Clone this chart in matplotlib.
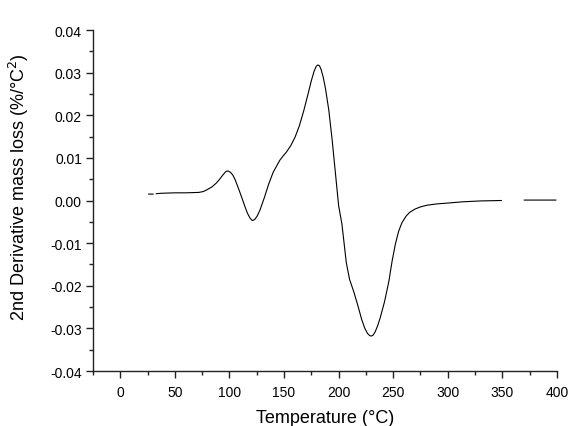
import matplotlib
matplotlib.use("Agg")
import matplotlib.pyplot as plt
from matplotlib.ticker import MultipleLocator, FormatStrFormatter
import numpy as np

plt.rcParams['font.family'] = ['Liberation Sans', 'DejaVu Sans']
plt.rcParams['axes.unicode_minus'] = False

# 2nd derivative curve (NaN marks gaps in the trace)
temp = [26, 30, np.nan, 33, 38, 50, 60, 72, 76, 80, 84, 88, 91, 94, 96,
        97.5, 99, 101, 103, 105, 108, 111, 114, 116.5, 119, 121, 123, 125.5,
        128, 132, 136, 140, 143, 146, 149, 152, 156, 160, 164, 168, 172, 175,
        177.5, 179.5, 181, 182.5, 184, 186, 188, 191, 194, 197, 200, 203,
        207, 210, 214, 218, 221, 224, 226.5, 228.5, 230, 231.5, 233.5, 236,
        238, 242, 246, 249, 252, 255, 258, 262, 265, 270, 275, 281, 290, 300,
        314, 330, 349, np.nan, 370, 385, 399]
deriv = [0.0015, 0.0015, np.nan, 0.0016, 0.0017, 0.0018, 0.0018, 0.0019,
         0.0021, 0.0026, 0.0032, 0.0041, 0.0050, 0.0060, 0.0066, 0.0069,
         0.0069, 0.0066, 0.0060, 0.0050, 0.0030, 0.0009, -0.0013, -0.0030,
         -0.0042, -0.0047, -0.0045, -0.0036, -0.0022, 0.0007, 0.0039,
         0.0066, 0.0080, 0.0094, 0.0104, 0.0113, 0.0128, 0.0148, 0.0175,
         0.0210, 0.0250, 0.0281, 0.0303, 0.0315, 0.0318, 0.0316, 0.0307,
         0.0288, 0.0262, 0.0212, 0.0144, 0.0066, -0.0012, -0.0055, -0.0145,
         -0.0185, -0.0215, -0.0250, -0.0278, -0.0300, -0.0312, -0.0317,
         -0.0318, -0.0316, -0.0308, -0.0292, -0.0276, -0.0238, -0.0190,
         -0.0142, -0.0102, -0.0072, -0.0052, -0.0036, -0.0028, -0.0020,
         -0.0015, -0.0011, -0.0008, -0.0006, -0.0003, -0.0001, 0.0000,
         np.nan, 0.0001, 0.0001, 0.0001]

fig = plt.figure(figsize=(5.73, 4.27), dpi=100)
ax = fig.add_axes([0.1623, 0.1288, 0.8097, 0.7986])

ax.plot(temp, deriv, color='black', linewidth=0.8)

ax.set_xlim(-25, 400)
ax.set_ylim(-0.04, 0.04)
ax.xaxis.set_major_locator(MultipleLocator(50))
ax.xaxis.set_minor_locator(MultipleLocator(25))
ax.yaxis.set_major_locator(MultipleLocator(0.01))
ax.yaxis.set_minor_locator(MultipleLocator(0.005))
ax.yaxis.set_major_formatter(FormatStrFormatter('%.2f'))

for side in ['top', 'right']:
    ax.spines[side].set_visible(False)
for side in ['left', 'bottom']:
    ax.spines[side].set_linewidth(1.0)
    ax.spines[side].set_color('#222222')

ax.tick_params(which='major', direction='out', length=5, width=1,
               labelsize=10, color='#222222')
ax.tick_params(axis='x', which='major', pad=5)
ax.tick_params(axis='y', which='major', pad=3)
ax.tick_params(which='minor', direction='out', length=3, width=1,
               color='#222222')

ax.set_xlabel('Temperature (°C)', fontsize=13, va='center')
ax.set_ylabel('2nd Derivative mass loss (%/°C$^2$)', fontsize=13,
              va='center')
ax.xaxis.set_label_coords(0.5, -0.135)
ax.yaxis.set_label_coords(-0.159, 0.541)

fig.savefig('out.png', dpi=100)
